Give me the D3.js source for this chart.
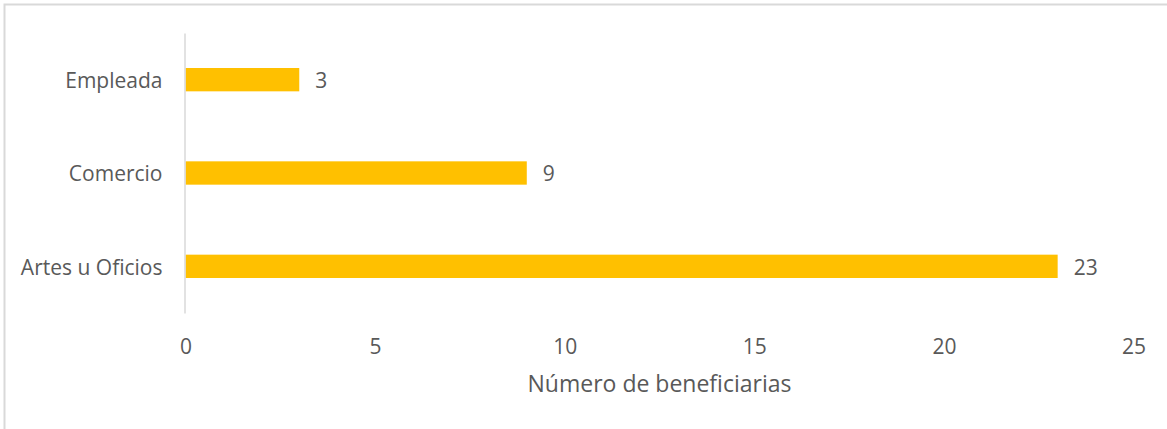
<!DOCTYPE html>
<html>
<head>
<meta charset="utf-8">
<script src="https://cdn.jsdelivr.net/npm/d3@7"></script>
<style>
  body { margin: 0; background: #fff; }
  text { font-family: "Open Sans", "Noto Sans", sans-serif; fill: #595959; }
</style>
</head>
<body>
<div id="chart"></div>
<script>
const categories = ["Empleada", "Comercio", "Artes u Oficios"];
const values = [3, 9, 23];
const xTicks = [0, 5, 10, 15, 20, 25];
const xTitle = "Número de beneficiarias";

const width = 1167, height = 429;
const margin = {top: 33, right: 33, bottom: 116, left: 185};
const fontSize = 21;

const svg = d3.select("#chart")
  .append("svg")
  .attr("width", width)
  .attr("height", height);

// chart border (only top/left are in frame)
svg.append("rect")
  .attr("x", 4.5).attr("y", 4.5)
  .attr("width", width + 10).attr("height", height + 10)
  .attr("fill", "none")
  .attr("stroke", "#d9d9d9")
  .attr("stroke-width", 2);

const x = d3.scaleLinear()
  .domain([0, 25])
  .range([margin.left + 0.5, width - margin.right - 0.5]);

const y = d3.scaleBand()
  .domain(categories)
  .range([margin.top, height - margin.bottom])
  .paddingInner(0.75)
  .paddingOuter(0.375);

// bars
svg.append("g")
  .selectAll("rect")
  .data(categories)
  .join("rect")
  .attr("x", x(0))
  .attr("y", d => y(d))
  .attr("width", (d, i) => x(values[i]) - x(0))
  .attr("height", y.bandwidth())
  .attr("fill", "#ffc000");

// value labels
svg.append("g")
  .selectAll("text")
  .data(categories)
  .join("text")
  .attr("x", (d, i) => x(values[i]) + 16)
  .attr("y", d => y(d) + y.bandwidth() / 2 + 1)
  .attr("dy", "0.35em")
  .attr("font-size", fontSize)
  .text((d, i) => values[i]);

// y axis
const yG = svg.append("g")
  .attr("transform", `translate(${margin.left - 0.5},0)`)
  .call(d3.axisLeft(y).tickSize(0).tickPadding(22));
yG.select(".domain").attr("stroke", "#d9d9d9").attr("stroke-width", 1.5);
yG.selectAll(".tick text")
  .attr("font-size", fontSize)
  .attr("font-family", '"Open Sans", "Noto Sans", sans-serif')
  .attr("fill", "#595959")
  .attr("dy", "0.4em");

// x axis
const xG = svg.append("g")
  .attr("transform", `translate(0,${height - margin.bottom})`)
  .call(d3.axisBottom(x).tickValues(xTicks).tickSize(0).tickPadding(26));
xG.select(".domain").remove();
xG.selectAll(".tick text")
  .attr("font-size", fontSize)
  .attr("font-family", '"Open Sans", "Noto Sans", sans-serif')
  .attr("fill", "#595959");

// axis title
svg.append("text")
  .attr("x", (x(0) + x(25)) / 2)
  .attr("y", 392)
  .attr("text-anchor", "middle")
  .attr("font-size", 23)
  .text(xTitle);
</script>
</body>
</html>
